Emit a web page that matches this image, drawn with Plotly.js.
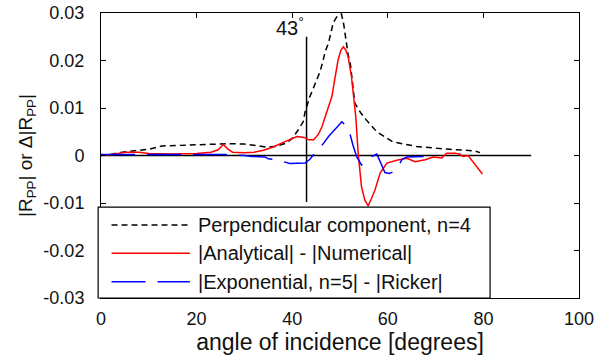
<!DOCTYPE html>
<html>
<head>
<meta charset="utf-8">
<script src="https://cdn.plot.ly/plotly-3.0.1.min.js"></script>
<style>html,body{margin:0;padding:0;background:#fff;}#chart{width:603px;height:355px;}</style>
</head>
<body>
<div id="chart"></div>
<script>
// ---- data ----
const perpAngle = [2, 3.3, 6, 10, 12.7, 16, 20, 23, 27, 30, 32, 34.5, 36.5, 38.8, 40, 41, 42.3, 42.7, 43.7, 45.1, 45.8, 46.4, 46.9, 47.6, 48.1, 48.6, 49.4, 50.3, 50.8, 51.4, 51.7, 52.2, 52.4, 53.1, 54.4, 55.5, 57.7, 61, 66, 70, 73, 76, 78, 79.3];
const perpValue = [0.0002, 0.0005, 0.0009, 0.0013, 0.002, 0.0021, 0.0023, 0.0024, 0.0025, 0.0024, 0.0021, 0.0018, 0.0019, 0.0026, 0.0036, 0.005, 0.0071, 0.0092, 0.0124, 0.0159, 0.0176, 0.0197, 0.0219, 0.0237, 0.0259, 0.028, 0.0293, 0.0298, 0.0275, 0.0236, 0.0212, 0.019, 0.0169, 0.011, 0.0089, 0.0075, 0.005, 0.0029, 0.0019, 0.0015, 0.0013, 0.0011, 0.001, 0.0006];

const anaAngle = [0, 3, 5, 8, 10, 15, 20, 23, 24.5, 25.6, 26.5, 27.5, 30, 32, 34, 36, 38, 39.5, 41, 42.5, 43.5, 44.5, 45.5, 46.2, 47.2, 48.3, 49, 49.6, 50.2, 50.7, 51.2, 51.7, 52.4, 52.9, 53.3, 53.8, 54.5, 55.2, 55.9, 56.6, 57.3, 58.4, 59.8, 61.9, 64, 65.7, 67.8, 69.5, 71.3, 72.3, 74, 75, 75.7, 76.8, 78.6, 79.8];
const anaValue = [0, 0.0003, 0.0007, 0.0007, 0.0004, 0.0003, 0.0004, 0.0007, 0.0012, 0.0023, 0.0014, 0.0007, 0.0006, 0.0007, 0.0011, 0.0018, 0.0027, 0.0034, 0.004, 0.0038, 0.0033, 0.0033, 0.0045, 0.006, 0.0089, 0.0124, 0.0166, 0.0201, 0.0222, 0.0229, 0.0222, 0.0208, 0.0166, 0.0117, 0.0082, 0.0005, -0.0066, -0.0094, -0.0106, -0.009, -0.0073, -0.0037, -0.0016, -0.001, -0.0006, -0.0013, -0.0009, -0.0003, -0.0005, 0.0005, 0.0005, 0.0003, -0.0002, 0, -0.0024, -0.0039];

const expAngle = [0, 8, 16, 26, 30, 31.5, 34.3, 35, 36.8, 38.5, 39.5, 42.7, 43.7, 44.5, 45.4, 46.5, 47.6, 49, 50.4, 51.2, 52.1, 52.7, 53.5, 54.5, 55.3, 56.3, 57.7, 58.5, 59.4, 60.3, 61.2, 62, 63, 64, 66, 67.5];
const expValue = [0.0002, 0.0002, 0.0002, 0.0002, 0, -0.0002, -0.0003, -0.0007, -0.0009, -0.0014, -0.0017, -0.0016, -0.0008, 0.0002, 0.0012, 0.0025, 0.004, 0.0056, 0.0071, 0.0063, 0.0045, 0.0022, -0.0003, -0.002, -0.0013, -0.0004, 0.0003, -0.0015, -0.0036, -0.0038, -0.0034, -0.0025, -0.0008, -0.0003, -0.0002, -0.0002];

const zeroLineX = [0, 90];
const zeroLineY = [0, 0];
const criticalAngle = 43;
const criticalLineY = [-0.0098, 0.025];
const criticalLabel = '43<sup>°</sup>';

const xTicks = [0, 20, 40, 60, 80, 100];
const yTicks = [-0.03, -0.02, -0.01, 0, 0.01, 0.02, 0.03];
const yTickText = ['-0.03', '-0.02', '-0.01', '0', '0.01', '0.02', '0.03'];

const seriesNames = ['Perpendicular component, n=4', '|Analytical| - |Numerical|', '|Exponential, n=5| - |Ricker|'];
const seriesColors = ['#000000', '#ff0000', '#0000ff'];
const seriesDash = ['6px,4px', 'solid', '34px,12px'];

const FONT = 'Arial, "Liberation Sans", sans-serif';

const traces = [
  {x: zeroLineX, y: zeroLineY, mode: 'lines', line: {color: '#000', width: 1.5}, hoverinfo: 'skip', showlegend: false},
  {x: [criticalAngle, criticalAngle], y: criticalLineY, mode: 'lines', line: {color: '#000', width: 1.5}, hoverinfo: 'skip', showlegend: false},
  {x: perpAngle, y: perpValue, name: seriesNames[0], mode: 'lines', line: {color: seriesColors[0], width: 1.5, dash: seriesDash[0]}},
  {x: anaAngle, y: anaValue, name: seriesNames[1], mode: 'lines', line: {color: seriesColors[1], width: 1.5, dash: seriesDash[1]}},
  {x: expAngle, y: expValue, name: seriesNames[2], mode: 'lines', line: {color: seriesColors[2], width: 1.5, dash: seriesDash[2]}}
];

// custom MATLAB-style legend box (paper coordinates)
const legX0 = -0.006, legX1 = 0.814, legY0 = 0, legY1 = 0.319;
const legRows = [0.256, 0.157, 0.057];
const legLineX0 = 0.022, legLineX1 = 0.186, legTextX = 0.198;

const shapes = [
  {type: 'rect', xref: 'paper', yref: 'paper', x0: legX0, x1: legX1, y0: legY0, y1: legY1, line: {color: '#000', width: 1.2}, fillcolor: '#fff', layer: 'above'}
];
const annotations = [
  {x: criticalAngle, y: 0.0272, xref: 'x', yref: 'y', text: criticalLabel, showarrow: false, xanchor: 'right', yanchor: 'middle', xshift: -1, font: {family: FONT, size: 20, color: '#111'}}
];
for (let i = 0; i < 3; i++) {
  shapes.push({type: 'line', xref: 'paper', yref: 'paper', x0: legLineX0, x1: legLineX1, y0: legRows[i], y1: legRows[i], line: {color: seriesColors[i], width: 1.5, dash: seriesDash[i]}, layer: 'above'});
  annotations.push({x: legTextX, y: legRows[i], xref: 'paper', yref: 'paper', text: seriesNames[i], showarrow: false, xanchor: 'left', yanchor: 'middle', font: {family: FONT, size: 20, color: '#111'}});
}

const layout = {
  width: 603, height: 355,
  margin: {l: 101, r: 24, t: 13, b: 57},
  paper_bgcolor: '#fff', plot_bgcolor: '#fff',
  showlegend: false,
  font: {family: FONT, color: '#111'},
  xaxis: {
    range: [0, 100], tickvals: xTicks, ticks: 'inside', ticklen: 5, tickcolor: '#000',
    showline: true, linecolor: '#000', linewidth: 1, mirror: 'ticks',
    showgrid: false, zeroline: false, tickfont: {family: FONT, size: 18, color: '#111'},
    ticklabelstandoff: 4,
    title: {text: 'angle of incidence [degrees]', font: {family: FONT, size: 23, color: '#111'}, standoff: 2}
  },
  yaxis: {
    range: [-0.03, 0.03], tickvals: yTicks, ticktext: yTickText, ticks: 'inside', ticklen: 5, tickcolor: '#000',
    showline: true, linecolor: '#000', linewidth: 1, mirror: 'ticks',
    showgrid: false, zeroline: false, tickfont: {family: FONT, size: 18, color: '#111'},
    ticklabelstandoff: 12,
    title: {text: '|R<sub>PP</sub>| or Δ|R<sub>PP</sub>|', font: {family: FONT, size: 19, color: '#111'}, standoff: 5}
  },
  shapes: shapes,
  annotations: annotations
};

Plotly.newPlot('chart', traces, layout, {staticPlot: true, displayModeBar: false});
</script>
</body>
</html>
